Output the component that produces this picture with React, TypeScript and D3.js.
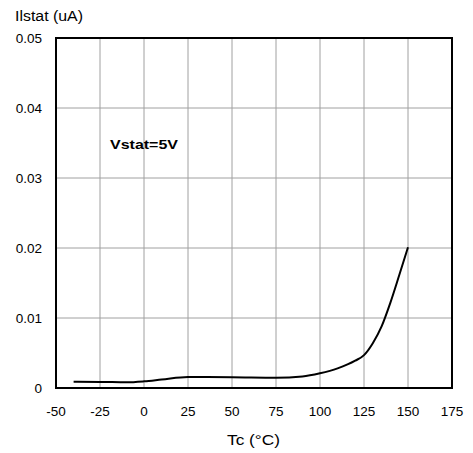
import * as d3 from 'd3'
import { useEffect, useRef } from 'react'

// Tc (°C) vs Ilstat (uA)
const temps = [-40, -25, -10, 0, 10, 25, 50, 75, 90, 100, 110, 120, 125, 130, 135, 140, 145, 150]
const current = [
  0.00088, 0.00087, 0.00082, 0.00095, 0.0012, 0.00157, 0.00155, 0.00148, 0.00165, 0.0021, 0.0028, 0.0039, 0.0047,
  0.0064, 0.0088, 0.0122, 0.0161, 0.0201,
]
const xTicks = [-50, -25, 0, 25, 50, 75, 100, 125, 150, 175]
const yTicks = [0, 0.01, 0.02, 0.03, 0.04, 0.05]

const W = 473
const H = 453
const font = 'Arial, "Liberation Sans", Helvetica, sans-serif'

export default function App() {
  const ref = useRef<SVGSVGElement>(null)

  useEffect(() => {
    document.body.style.margin = '0'
    if (!ref.current) return
    const svg = d3.select(ref.current)
    svg.selectAll('*').remove()

    const margin = { top: 38, right: 21, bottom: 65, left: 56 }
    const x = d3.scaleLinear().domain([-50, 175]).range([margin.left, W - margin.right])
    const y = d3.scaleLinear().domain([0, 0.05]).range([H - margin.bottom, margin.top])

    // grid
    const grid = svg.append('g').attr('stroke', '#a0a0a0').attr('stroke-width', 1)
    grid
      .selectAll('line.v')
      .data(xTicks.slice(1, -1))
      .join('line')
      .attr('x1', (d) => x(d))
      .attr('x2', (d) => x(d))
      .attr('y1', y(0))
      .attr('y2', y(0.05))
    grid
      .selectAll('line.h')
      .data(yTicks.slice(1, -1))
      .join('line')
      .attr('x1', x(-50))
      .attr('x2', x(175))
      .attr('y1', (d) => y(d))
      .attr('y2', (d) => y(d))

    // curve
    const line = d3
      .line<number>()
      .x((_, i) => x(temps[i]))
      .y((d) => y(d))
      .curve(d3.curveMonotoneX)
    svg
      .append('path')
      .datum(current)
      .attr('d', line)
      .attr('fill', 'none')
      .attr('stroke', '#000')
      .attr('stroke-width', 2)

    // frame
    svg
      .append('rect')
      .attr('x', x(-50))
      .attr('y', y(0.05))
      .attr('width', x(175) - x(-50))
      .attr('height', y(0) - y(0.05))
      .attr('fill', 'none')
      .attr('stroke', '#000')
      .attr('stroke-width', 2)

    // tick labels
    svg
      .append('g')
      .selectAll('text')
      .data(xTicks)
      .join('text')
      .attr('x', (d) => x(d))
      .attr('y', 416)
      .attr('text-anchor', 'middle')
      .attr('font-family', font)
      .attr('font-size', 13.5)
      .text((d) => String(d))
    svg
      .append('g')
      .selectAll('text')
      .data(yTicks)
      .join('text')
      .attr('x', 42)
      .attr('y', (d) => y(d))
      .attr('dy', '0.35em')
      .attr('text-anchor', 'end')
      .attr('font-family', font)
      .attr('font-size', 13.5)
      .text((d) => (d === 0 ? '0' : d3.format('.2f')(d)))

    // labels (the reference type is a little wider than Arial)
    svg
      .append('text')
      .attr('x', 15)
      .attr('y', 21)
      .attr('font-family', font)
      .attr('font-size', 14)
      .attr('textLength', 68)
      .attr('lengthAdjust', 'spacingAndGlyphs')
      .text('Ilstat (uA)')
    svg
      .append('text')
      .attr('x', 227)
      .attr('y', 445)
      .attr('font-family', font)
      .attr('font-size', 14)
      .attr('textLength', 53)
      .attr('lengthAdjust', 'spacingAndGlyphs')
      .text('Tc (°C)')
    svg
      .append('text')
      .attr('x', 110)
      .attr('y', 149)
      .attr('font-family', font)
      .attr('font-size', 13)
      .attr('font-weight', 'bold')
      .attr('textLength', 68)
      .attr('lengthAdjust', 'spacingAndGlyphs')
      .text('Vstat=5V')
  }, [])

  return <svg ref={ref} width={W} height={H} style={{ display: 'block', background: '#fff' }} />
}
